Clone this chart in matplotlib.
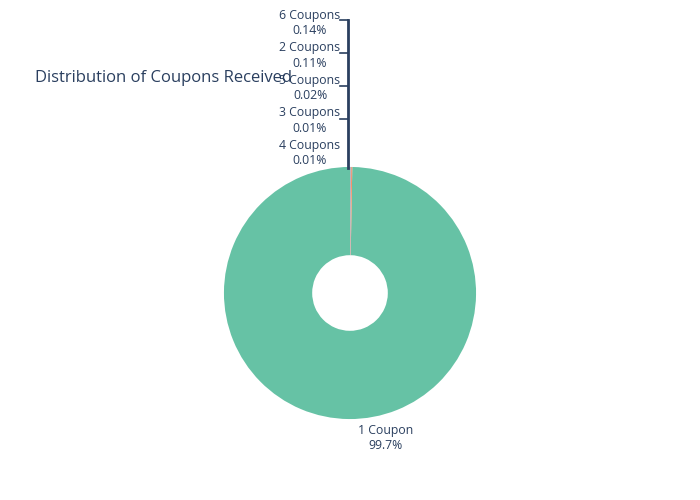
import matplotlib.pyplot as plt
from matplotlib.lines import Line2D

labels = ["1 Coupon", "6 Coupons", "2 Coupons", "5 Coupons", "3 Coupons", "4 Coupons"]
shares = [99.71, 0.14, 0.11, 0.02, 0.01, 0.01]
colors = ["#66c2a5", "#fc8d62", "#8da0cb", "#e78ac3", "#a6d854", "#ffd92f"]

txt = "#2a3f5f"
plt.rcParams['font.family'] = ['Open Sans', 'DejaVu Sans']

W, H = 700, 500
fig = plt.figure(figsize=(7, 5), dpi=100)

# pie centred at (350, 293) px, radius ~126 px
side = 300
ax = fig.add_axes([(350 - side / 2) / W, (H - 293 - side / 2) / H, side / W, side / H])
ax.pie(shares, colors=colors, startangle=90, counterclock=True,
       wedgeprops=dict(width=0.7, edgecolor="white", linewidth=0))
ax.set_xlim(-1.19, 1.19)
ax.set_ylim(-1.19, 1.19)
ax.set_aspect("equal")
ax.axis("off")

def px(x, y):
    return x / W, 1 - y / H

fig.text(*px(35, 78), "Distribution of Coupons Received", fontsize=12,
         color=txt, va="center", ha="left")

# big slice label
fig.text(*px(386, 438), "%s\n%s%%" % (labels[0], format(shares[0], ".3g")),
         fontsize=8.8, color=txt, ha="center", va="center", linespacing=1.25)

# stacked labels for the tiny slices
small = list(zip(labels[1:], shares[1:]))
fig.add_artist(Line2D([348 / W, 348 / W], [1 - 168 / H, 1 - 20 / H],
                      transform=fig.transFigure, color=txt, lw=2))
for i, (lab, s) in enumerate(small):
    ytop = 15 + 32.5 * i
    fig.text(*px(310, ytop + 8), "%s\n%s%%" % (lab, format(s, ".3g")),
             fontsize=8.8, color=txt, ha="center", va="center", linespacing=1.25)
    if i < len(small) - 1:
        ly = 20 + 33 * i
        fig.add_artist(Line2D([340 / W, 348 / W], [1 - ly / H, 1 - ly / H],
                              transform=fig.transFigure, color=txt, lw=1.2))

fig.savefig("out.png", dpi=100)
